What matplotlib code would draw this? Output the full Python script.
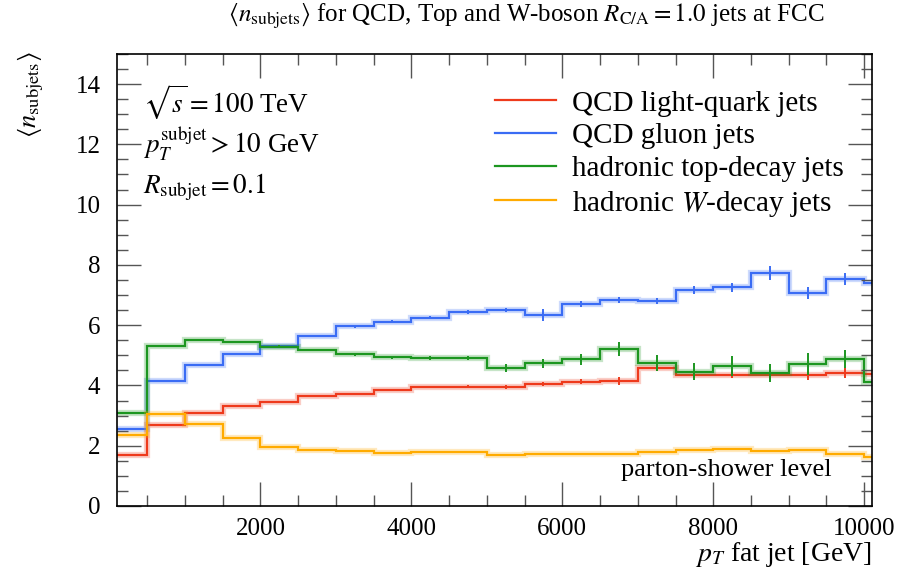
import numpy as np
import matplotlib
matplotlib.use("Agg")
import matplotlib.pyplot as plt
from matplotlib.ticker import MultipleLocator

plt.rcParams['font.family'] = ['Liberation Serif', 'DejaVu Serif']
plt.rcParams['mathtext.fontset'] = 'stix'

edges = np.arange(0, 10501, 500)
red = [1.69, 2.70, 3.07, 3.32, 3.44, 3.66, 3.71, 3.85, 3.95, 3.95, 3.95, 4.06, 4.13, 4.15, 4.58, 4.34, 4.36, 4.34, 4.33, 4.41, 4.37]
blue = [2.55, 4.14, 4.68, 5.03, 5.31, 5.65, 5.96, 6.12, 6.25, 6.43, 6.50, 6.35, 6.69, 6.85, 6.79, 7.17, 7.26, 7.73, 7.06, 7.53, 7.41]
green = [3.10, 5.32, 5.50, 5.43, 5.29, 5.18, 5.03, 4.93, 4.92, 4.90, 4.58, 4.74, 4.87, 5.21, 4.75, 4.45, 4.64, 4.41, 4.71, 4.88, 4.12]
orange = [2.37, 3.04, 2.72, 2.26, 1.96, 1.85, 1.83, 1.75, 1.80, 1.79, 1.68, 1.73, 1.71, 1.71, 1.78, 1.85, 1.89, 1.81, 1.85, 1.74, 1.61]

red_err = [0.01, 0.01, 0.01, 0.02, 0.02, 0.03, 0.03, 0.04, 0.04, 0.05, 0.06, 0.07, 0.08, 0.12, 0.10, 0.10, 0.12, 0.14, 0.14, 0.17, 0.15]
blue_err = [0.02, 0.02, 0.02, 0.02, 0.03, 0.03, 0.04, 0.04, 0.05, 0.06, 0.07, 0.20, 0.10, 0.10, 0.10, 0.12, 0.15, 0.22, 0.20, 0.20, 0.20]
green_err = [0.03, 0.03, 0.03, 0.03, 0.04, 0.04, 0.05, 0.05, 0.06, 0.07, 0.12, 0.15, 0.18, 0.22, 0.26, 0.28, 0.33, 0.30, 0.36, 0.30, 0.30]
orange_err = [0.01, 0.01, 0.01, 0.01, 0.01, 0.02, 0.02, 0.02, 0.02, 0.02, 0.02, 0.02, 0.03, 0.03, 0.03, 0.03, 0.03, 0.03, 0.03, 0.03, 0.03]

labels = ['QCD light-quark jets', 'QCD gluon jets', 'hadronic top-decay jets', r'hadronic $W$-decay jets']
colors = ['#ee3a1c', '#3a6cf4', '#1c9620', '#ffab00']
series = [red, blue, green, orange]
errs = [red_err, blue_err, green_err, orange_err]

fig = plt.figure(figsize=(9.01, 5.74), dpi=100)
ax = fig.add_axes([0.1299, 0.1185, 0.9675 - 0.1299, 0.906 - 0.1185])

centers = 0.5 * (edges[:-1] + edges[1:])
handles = []
for vals, err, c, lab in zip(series, errs, colors, labels):
    ax.stairs(vals, edges, color=c, lw=4.5, alpha=0.25, baseline=None)
    ax.stairs(vals, edges, color=c, lw=1.6, baseline=None)
    ax.errorbar(centers, vals, yerr=err, fmt='none', ecolor=c, elinewidth=1.4, capsize=0)
    handles.append(plt.Line2D([], [], color=c, lw=1.6))

ax.set_xlim(100, 10100)
ax.set_ylim(0, 15)
ax.xaxis.set_major_locator(MultipleLocator(2000))
ax.xaxis.set_minor_locator(MultipleLocator(500))
ax.yaxis.set_major_locator(MultipleLocator(2))
ax.yaxis.set_minor_locator(MultipleLocator(0.5))
ax.tick_params(which='both', direction='in', top=True, right=True, color='#555555', labelsize=18)
ax.tick_params(which='major', length=17, width=1.0)
ax.tick_params(which='minor', length=8, width=1.0)
ax.tick_params(axis='x', which='major', pad=9)
ax.tick_params(axis='y', which='major', pad=12)
for s in ax.spines.values():
    s.set_linewidth(1.2)

fig.text(526 / 901, 1 - 16 / 574,
         r'$\langle n_{\mathrm{subjets}}\rangle$ for QCD, Top and W-boson $R_{\mathrm{C/A}} = 1.0$ jets at FCC',
         fontsize=18, ha='center', va='center')
ax.set_xlabel(r'$p_T$ fat jet [GeV]', fontsize=20, loc='right', labelpad=0)
fig.text(0.034, 1 - 95 / 574, r'$\langle n_{\mathrm{subjets}}\rangle$', rotation=90, fontsize=19, ha='center', va='center')

ax.text(0.035, 0.894, r'$\sqrt{s} = 100$ TeV', transform=ax.transAxes, fontsize=19.5, va='center')
ax.text(0.035, 0.800, r'$p_T^{\mathrm{subjet}} > 10$ GeV', transform=ax.transAxes, fontsize=19.5, va='center')
ax.text(0.035, 0.706, r'$R_{\mathrm{subjet}} = 0.1$', transform=ax.transAxes, fontsize=19.5, va='center')
ax.text(0.947, 0.08, 'parton-shower level', transform=ax.transAxes, fontsize=19, ha='right', va='center')

ax.legend(handles, labels, loc='upper right', bbox_to_anchor=(0.963, 0.92), frameon=False, fontsize=21,
          handlelength=2.1, handletextpad=0.55, labelspacing=0.22, borderaxespad=0.0, borderpad=0.0)

fig.savefig('out.png', dpi=100)
